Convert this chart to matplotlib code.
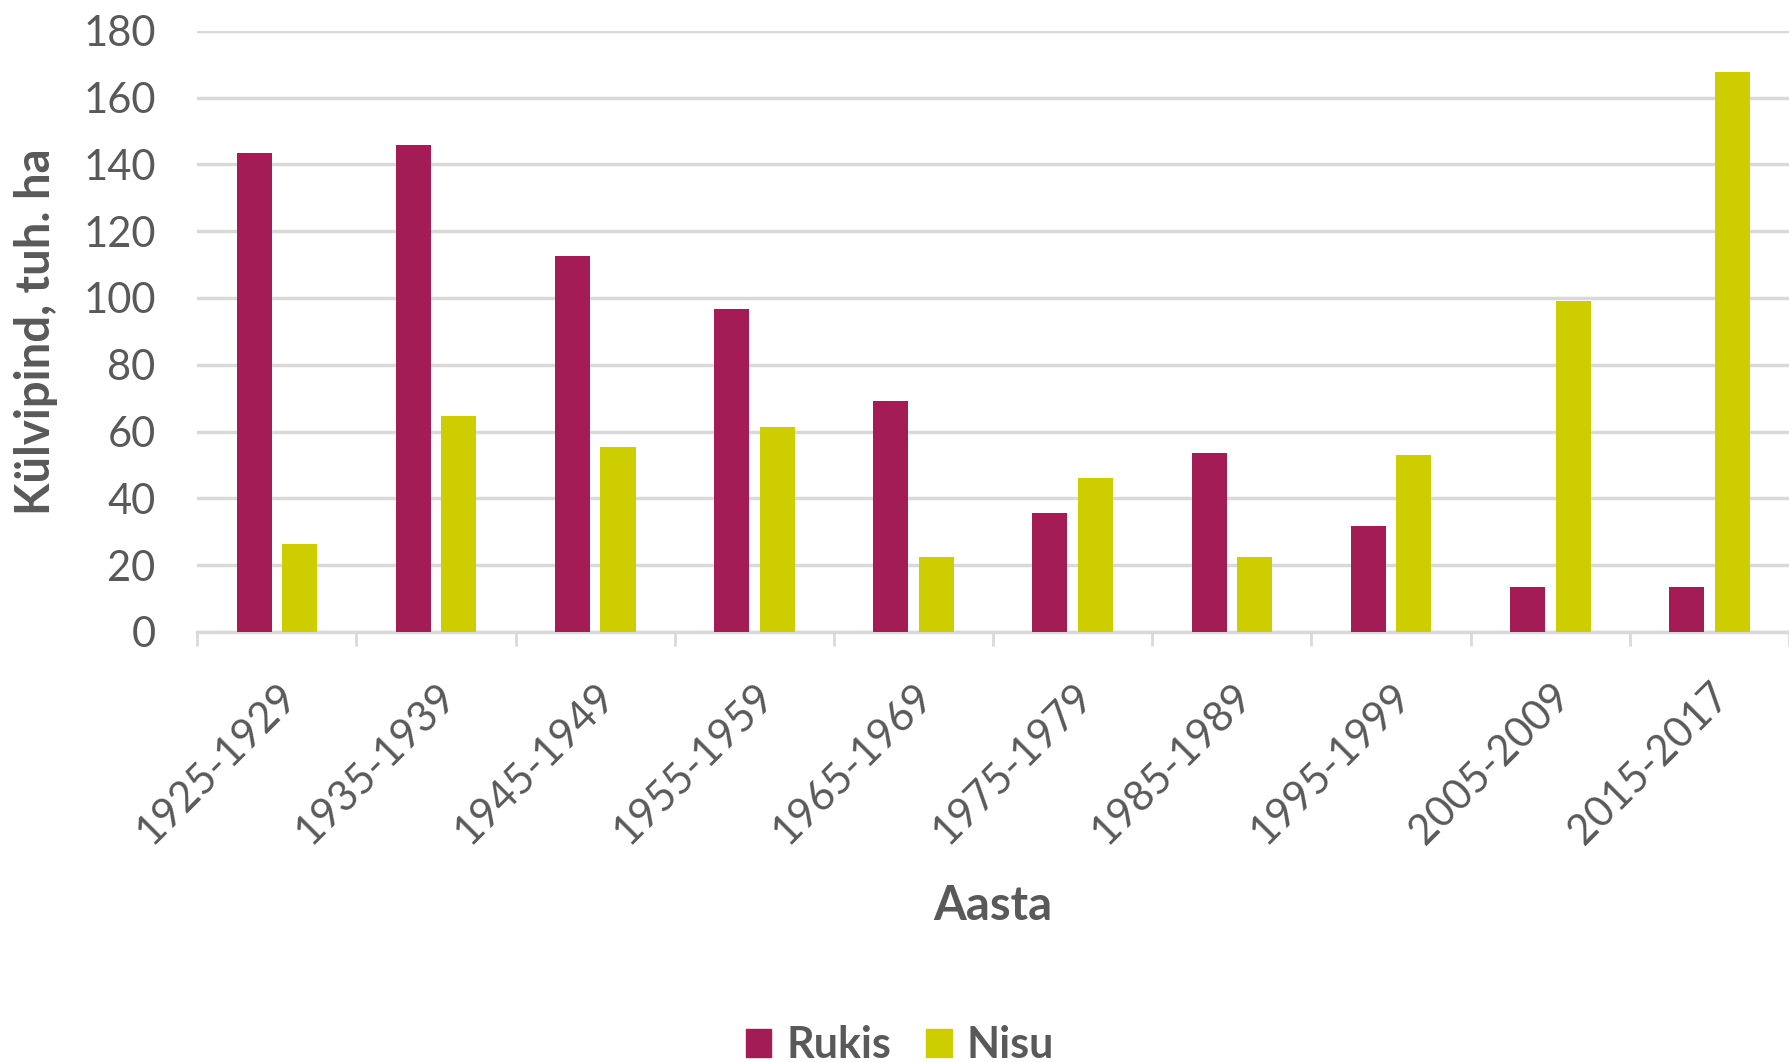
import matplotlib
matplotlib.use("Agg")
import matplotlib.pyplot as plt
import numpy as np
from matplotlib.patches import Patch

categories = ["1925-1929", "1935-1939", "1945-1949", "1955-1959", "1965-1969",
              "1975-1979", "1985-1989", "1995-1999", "2005-2009", "2015-2017"]
rukis = [143.4, 145.8, 112.7, 96.7, 69.0, 35.5, 53.6, 31.8, 13.3, 13.3]
nisu = [26.3, 64.5, 55.3, 61.5, 22.5, 46.1, 22.5, 52.9, 99.0, 167.7]
yticks = [0, 20, 40, 60, 80, 100, 120, 140, 160, 180]

c_rukis = "#A31C56"
c_nisu = "#CDCD00"
txt = "#595959"
grid = "#D9D9D9"

plt.rcParams['font.family'] = ['Lato', 'DejaVu Sans']

fig = plt.figure(figsize=(17.89, 10.62), dpi=100)
ax = fig.add_axes([0.1103, 0.405, 0.8897, 0.566])

x = np.arange(len(categories))
w = 0.22
ax.bar(x - 0.143, rukis, width=w, color=c_rukis, zorder=3)
ax.bar(x + 0.143, nisu, width=w, color=c_nisu, zorder=3)

ax.set_xlim(-0.5, len(categories) - 0.5)
ax.set_ylim(0, 180)
ax.set_yticks(yticks)
ax.set_yticklabels([str(v) for v in yticks], fontsize=30, color=txt)
ax.tick_params(axis='y', length=0, pad=30)
ax.yaxis.grid(True, color=grid, linewidth=2.5, zorder=0)
ax.set_axisbelow(True)

ax.set_xticks(x)
ax.set_xticklabels(categories, rotation=45, ha='right', rotation_mode='anchor',
                   fontsize=30, color=txt)
ax.tick_params(axis='x', which='major', length=0, pad=32)
ax.set_xticks(np.arange(-0.5, len(categories), 1.0), minor=True)
ax.tick_params(axis='x', which='minor', length=10, width=2, color=grid)

for s in ['top', 'right', 'left']:
    ax.spines[s].set_visible(False)
ax.spines['bottom'].set_color(grid)
ax.spines['bottom'].set_linewidth(2.5)

ax.set_ylabel("Külvipind, tuh. ha", fontsize=34, fontweight='bold', color=txt, labelpad=18)
ax.set_xlabel("Aasta", fontsize=34, fontweight='bold', color=txt, labelpad=24)

handles = [Patch(color=c_rukis, label="Rukis"), Patch(color=c_nisu, label="Nisu")]
fig.legend(handles=handles, loc='center', bbox_to_anchor=(0.503, 0.016), ncol=2,
           frameon=False, prop={'size': 31, 'weight': 'bold'}, labelcolor=txt,
           handlelength=0.6, handleheight=0.6, handletextpad=0.35, columnspacing=0.8)

fig.savefig("out.png", dpi=100)
